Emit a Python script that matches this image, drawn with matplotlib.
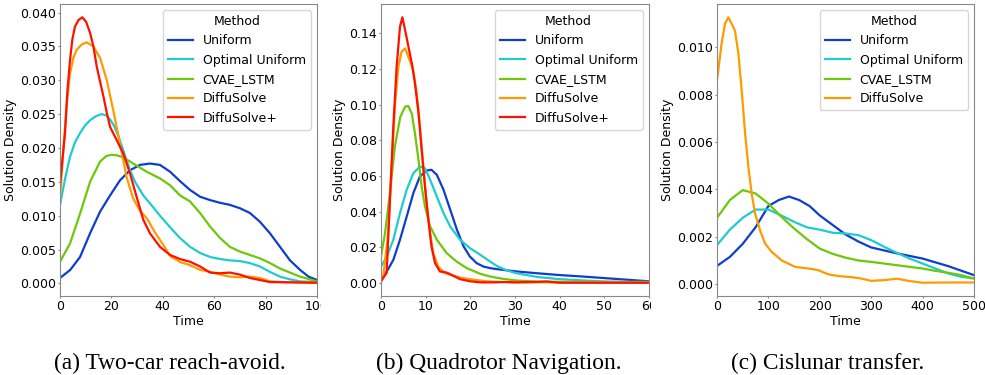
import numpy as np
import matplotlib
matplotlib.use('Agg')
import matplotlib.pyplot as plt
from matplotlib.transforms import Bbox, TransformedBbox

methods = ['Uniform', 'Optimal Uniform', 'CVAE_LSTM', 'DiffuSolve', 'DiffuSolve+']
colors = ['#0d3fcc', '#1fcbd0', '#6cc80a', '#ff9a00', '#ff1100']

# (a) two-car reach-avoid
a_uni_x = [0, 4, 7.8, 11.7, 15.6, 19.5, 23.3, 27.2, 31.1, 35, 38.9, 42.8, 46.7, 50.6, 54.5, 58.4, 62.3,
           66.1, 70, 73.9, 77.8, 81.7, 85.6, 89.5, 93.4, 96.7, 100]
a_uniform = [0.0008, 0.0020, 0.0039, 0.0074, 0.0106, 0.0130, 0.0152, 0.0167, 0.0175, 0.0177, 0.0175,
             0.0165, 0.0151, 0.0138, 0.0128, 0.0123, 0.0119, 0.0116, 0.0111, 0.0104, 0.0091, 0.0074,
             0.0054, 0.0034, 0.0020, 0.0010, 0.0005]
a_opt_x = [0, 2, 3.9, 5.8, 7.8, 9.7, 11.7, 14, 16.2, 18, 19.5, 21, 22.7, 24.3, 25.9, 27.5, 29.2, 32.4,
           35.7, 38.9, 42.8, 46.7, 50.6, 54.5, 58.4, 62.3, 66.1, 70, 73.9, 77.8, 81.7, 85.6, 89.5,
           93.4, 100]
a_opt = [0.0116, 0.0155, 0.0187, 0.0208, 0.0222, 0.0233, 0.0241, 0.0247, 0.0250, 0.0248, 0.0242,
         0.0233, 0.0218, 0.0200, 0.0182, 0.0165, 0.0150, 0.0130, 0.0115, 0.0100, 0.0083, 0.0067,
         0.0054, 0.0045, 0.0039, 0.0036, 0.0034, 0.0033, 0.0030, 0.0025, 0.0017, 0.0010, 0.0006,
         0.0003, 0.0002]
a_cvae_x = [0, 3.9, 7.8, 11.7, 15.6, 18, 20.1, 22.3, 24.6, 28.5, 33.7, 38.9, 42.8, 46.7, 50.6, 54.5,
            58.4, 62.3, 66.1, 70, 73.9, 77.8, 81.7, 85.6, 89.5, 93.4, 100]
a_cvae = [0.0032, 0.0059, 0.0103, 0.0150, 0.0180, 0.0188, 0.0190, 0.0189, 0.0186, 0.0177, 0.0165,
          0.0155, 0.0145, 0.0130, 0.0121, 0.0104, 0.0084, 0.0067, 0.0054, 0.0047, 0.0042, 0.0037,
          0.0030, 0.0022, 0.0016, 0.0010, 0.0003]
a_ds_x = [0, 1.3, 2.6, 3.9, 5.2, 6.5, 8.5, 10.4, 13, 15.6, 18.2, 20.7, 23.3, 25.9, 28.5, 31, 34,
          37, 40, 43, 47, 50.6, 54.5, 58.4, 62.3, 66.1, 70, 73.9, 77.8, 81.7, 85.6, 100]
a_ds = [0.0125, 0.0197, 0.0265, 0.0310, 0.0333, 0.0345, 0.0353, 0.0356, 0.0350, 0.0333, 0.0300,
        0.0256, 0.0207, 0.0157, 0.0125, 0.0108, 0.0095, 0.0075, 0.0058, 0.0040, 0.0031, 0.0027,
        0.0020, 0.0017, 0.0013, 0.0010, 0.0009, 0.0010, 0.0008, 0.0003, 0.0002, 0.0001]
a_dsp_x = [0, 1, 1.95, 2.9, 3.9, 4.8, 5.8, 7.2, 8.7, 10.2, 11.7, 13, 14.3, 15.6, 16.9, 18.2, 19.5,
           22, 24.6, 27.2, 29.8, 32.4, 35, 38.9, 42.8, 46.7, 50.6, 54.5, 58.4, 62.3, 66.1, 70, 73.9,
           77.8, 81.7, 100]
a_dsp = [0.0145, 0.0185, 0.0222, 0.0285, 0.0330, 0.0360, 0.0379, 0.0389, 0.0393, 0.0386, 0.0370,
         0.0350, 0.0320, 0.0298, 0.0276, 0.0252, 0.0231, 0.0212, 0.0192, 0.0163, 0.0128, 0.0094,
         0.0074, 0.0054, 0.0042, 0.0036, 0.0032, 0.0025, 0.0016, 0.0015, 0.0016, 0.0013, 0.0008,
         0.0005, 0.0002, 0.0001]

# (b) quadrotor navigation
b_uni_x = [0, 1.3, 2.76, 4.25, 5.75, 7.24, 8.7, 10.2, 11.3, 12.5, 14, 15.5, 17, 18.5, 19.9, 21.4,
           22.9, 24.4, 26, 28, 30, 35, 40, 45, 50, 55, 60]
b_uniform = [0.0028, 0.0065, 0.013, 0.0243, 0.0373, 0.0504, 0.0597, 0.0631, 0.0635, 0.0607, 0.0523,
             0.0411, 0.0299, 0.0205, 0.0149, 0.0112, 0.0093, 0.0084, 0.0078, 0.0072, 0.0066, 0.0055,
             0.0045, 0.0037, 0.0028, 0.0019, 0.0010]
b_opt_x = [0, 1.3, 2.76, 4.25, 5.75, 7.24, 8.7, 9.85, 11, 12.5, 14, 15.5, 17.7, 19.9, 22.2, 24.4,
           26, 28, 30, 35, 40, 45, 50, 55, 60]
b_opt = [0.0093, 0.0149, 0.0243, 0.0392, 0.0523, 0.0616, 0.0653, 0.0644, 0.0579, 0.0485, 0.0392,
         0.0317, 0.0243, 0.0196, 0.0159, 0.0121, 0.0095, 0.0073, 0.0057, 0.0034, 0.0022, 0.0015,
         0.0009, 0.0007, 0.0007]
b_cvae_x = [0, 0.9, 2.0, 3.1, 4.3, 5.4, 6.1, 6.9, 7.6, 8.4, 9.1, 9.85, 11, 12.5, 14.7, 16.9, 19.2,
            22.2, 24.4, 27, 30, 35, 40, 50, 60]
b_cvae = [0.0150, 0.0280, 0.0504, 0.0765, 0.0930, 0.0989, 0.0993, 0.0950, 0.0840, 0.0690, 0.0540,
          0.0429, 0.0317, 0.0243, 0.0168, 0.0121, 0.0084, 0.0052, 0.0037, 0.0025, 0.0015, 0.0008,
          0.0007, 0.0006, 0.0004]
b_ds_x = [0, 0.5, 1.6, 2.4, 3.1, 3.9, 4.6, 5.4, 6.1, 7.2, 8.0, 8.7, 9.5, 10.2, 11.0, 11.7, 12.8,
          14.3, 16.2, 18.4, 20.7, 23.7, 27, 30, 60]
b_ds = [0.0004, 0.0037, 0.0280, 0.0653, 0.0989, 0.1213, 0.1297, 0.1316, 0.1270, 0.1195, 0.1064,
        0.0880, 0.0653, 0.0448, 0.0280, 0.0168, 0.0093, 0.0056, 0.0041, 0.0028, 0.0019, 0.0010,
        0.0006, 0.0004, 0.0004]
b_dsp_x = [0, 1.27, 2.0, 2.76, 3.5, 4.25, 4.78, 5.4, 6.1, 6.9, 7.6, 8.4, 9.1, 9.85, 10.6, 11.3, 12.1,
           13.2, 14.7, 15.8, 17.7, 20, 22.3, 25, 28, 30, 35, 37, 40, 60]
b_dsp = [0.001, 0.0057, 0.0467, 0.0877, 0.1213, 0.1437, 0.1490, 0.1418, 0.1330, 0.1232, 0.1120,
         0.0953, 0.0747, 0.0540, 0.0355, 0.0205, 0.0112, 0.0065, 0.0059, 0.0046, 0.0022, 0.0010,
         0.0004, 0.0004, 0.0006, 0.0004, 0.0007, 0.0009, 0.0002, 0.0002]

# (c) cislunar transfer
c_uni_x = [0, 25, 50, 75, 100, 120, 140, 160, 180, 200, 225, 250, 275, 300, 350, 400, 450, 500]
c_uniform = [0.00077, 0.00115, 0.0017, 0.0024, 0.0033, 0.00355, 0.0037, 0.00355, 0.0033, 0.0029,
             0.0025, 0.0021, 0.0018, 0.00155, 0.0013, 0.00108, 0.00076, 0.00038]
c_x = [0, 25, 50, 75, 100, 125, 150, 175, 200, 225, 250, 275, 300, 325, 350, 375, 400, 425, 450, 475, 500]
c_opt = [0.00165, 0.0023, 0.0028, 0.00315, 0.00315, 0.0029, 0.00263, 0.0024, 0.0023, 0.00217, 0.00214,
         0.00207, 0.00186, 0.00158, 0.00132, 0.00108, 0.00087, 0.00066, 0.00045, 0.00031, 0.00024]
c_cvae = [0.0028, 0.00355, 0.00397, 0.00383, 0.0034, 0.00285, 0.00235, 0.0019, 0.0015, 0.00128,
          0.00112, 0.0010, 0.00094, 0.00087, 0.0008, 0.00073, 0.00066, 0.00056, 0.00048, 0.00038, 0.00024]
c_ds_x = [0, 9, 15.6, 22, 28.5, 35, 41.5, 48, 54.5, 61, 67.4, 73.9, 83.6, 93.4, 106, 126, 152, 178,
          197, 216, 236, 260, 280, 300, 325, 350, 375, 400, 450, 500]
c_ds = [0.0086, 0.01017, 0.0110, 0.01127, 0.0110, 0.0107, 0.00975, 0.0082, 0.0064, 0.00496, 0.00383,
        0.0030, 0.00228, 0.00172, 0.00137, 0.0010, 0.00073, 0.00066, 0.00059, 0.00042, 0.00034,
        0.00030, 0.00024, 0.00014, 0.00017, 0.00023, 0.00013, 0.00006, 0.00007, 0.00007]

panels = [
    ([(a_uni_x, a_uniform), (a_opt_x, a_opt), (a_cvae_x, a_cvae), (a_ds_x, a_ds), (a_dsp_x, a_dsp)],
     [0, 20, 40, 60, 80, 100], (0, 100), '(a) Two-car reach-avoid.'),
    ([(b_uni_x, b_uniform), (b_opt_x, b_opt), (b_cvae_x, b_cvae), (b_ds_x, b_ds), (b_dsp_x, b_dsp)],
     [0, 10, 20, 30, 40, 50, 60], (0, 60), '(b) Quadrotor Navigation.'),
    ([(c_uni_x, c_uniform), (c_x, c_opt), (c_x, c_cvae), (c_ds_x, c_ds)],
     [0, 100, 200, 300, 400, 500], (0, 500), '(c) Cislunar transfer.'),
]

W, H = 985, 375
fig = plt.figure(figsize=(W / 100, H / 100), dpi=100)
rects = [(60, 257), (381, 268), (717, 257)]
clip_right = [321, 651, 985]
caption_x = [170, 499, 828]

for i, (series, xticks, xlim, caption) in enumerate(panels):
    left, width = rects[i]
    ax = fig.add_axes([left / W, 1 - 296 / H, width / W, 292 / H])
    for j, (xs, ys) in enumerate(series):
        ax.plot(xs, ys, color=colors[j], lw=1.6, label=methods[j])
    ax.set_xlim(*xlim)
    ax.set_xticks(xticks)
    ax.tick_params(labelsize=9, length=1.5, pad=1.5, color='#888888')
    for s in ax.spines.values():
        s.set_color('#888888')
    ax.set_xlabel('Time', fontsize=9, labelpad=1.5)
    ax.set_ylabel('Solution Density', fontsize=9, labelpad=2)
    ax.legend(title='Method', loc='upper right', fontsize=9, title_fontsize=9)
    # last tick label is cut by the panel edge in the original
    cb = TransformedBbox(Bbox.from_extents(0, 0, clip_right[i] / W, 1), fig.transFigure)
    for t in ax.xaxis.get_major_ticks():
        t.label1.set_clip_on(True)
        t.label1.set_clip_box(cb)
    fig.text(caption_x[i] / W, 1 - 369 / H, caption, ha='center', va='baseline',
             family='Liberation Serif', fontsize=16.8)

fig.savefig('out.png', dpi=100)
